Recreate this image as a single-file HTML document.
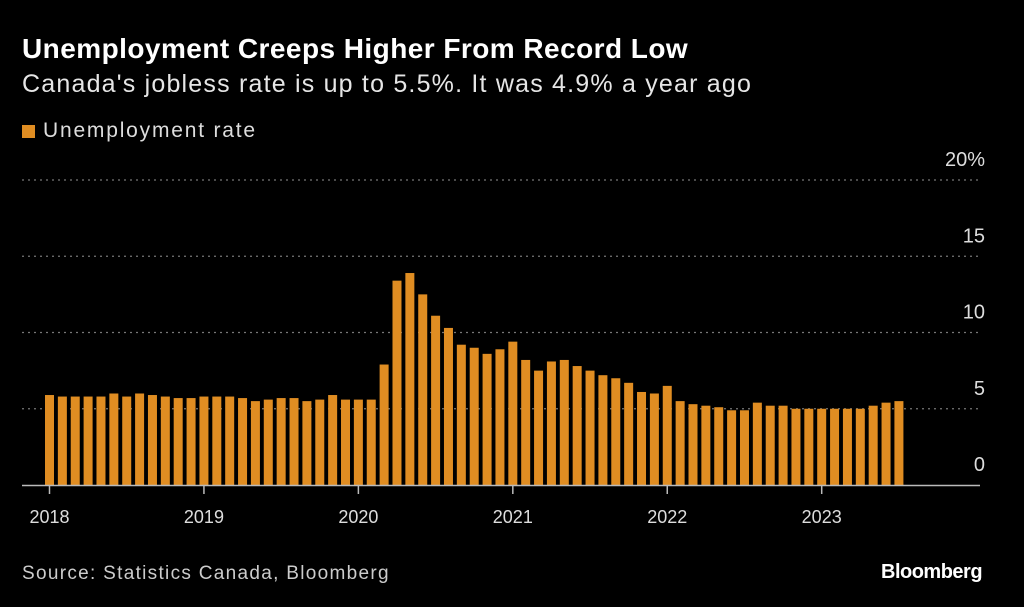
<!DOCTYPE html>
<html><head><meta charset="utf-8"><style>
body{margin:0;background:#000;width:1024px;height:607px;overflow:hidden;font-family:"Liberation Sans",sans-serif;color:#fff}
.t{position:absolute;white-space:nowrap}
</style></head><body>
<div class="t" style="left:22px;top:33px;font-size:28px;font-weight:bold;letter-spacing:0.45px">Unemployment Creeps Higher From Record Low</div>
<div class="t" style="left:22px;top:70px;font-size:25px;letter-spacing:1.2px;color:#e6e6e6">Canada's jobless rate is up to 5.5%. It was 4.9% a year ago</div>
<div class="t" style="left:22px;top:119px;font-size:21px;letter-spacing:1.8px;color:#ddd"><span style="display:inline-block;width:13px;height:13px;background:#e08d22;margin-right:8px;vertical-align:-1px"></span>Unemployment rate</div>
<div class="t" style="left:22px;top:563px;font-size:19px;letter-spacing:1.3px;color:#ccc">Source: Statistics Canada, Bloomberg</div>
<div class="t" style="left:881px;top:561px;font-size:20px;font-weight:bold;letter-spacing:-0.5px">Bloomberg</div>
<svg id="c" width="1024" height="607" style="position:absolute;left:0;top:0"></svg>
<script>
const yTicks=[0,5,10,15,20];
const yTickLabels=["0","5","10","15","20%"];
const years=["2018","2019","2020","2021","2022","2023"];
const rates=[5.9,5.8,5.8,5.8,5.8,6.0,5.8,6.0,5.9,5.8,5.7,5.7,
5.8,5.8,5.8,5.7,5.5,5.6,5.7,5.7,5.5,5.6,5.9,5.6,
5.6,5.6,7.9,13.4,13.9,12.5,11.1,10.3,9.2,9.0,8.6,8.9,
9.4,8.2,7.5,8.1,8.2,7.8,7.5,7.2,7.0,6.7,6.1,6.0,
6.5,5.5,5.3,5.2,5.1,4.9,4.9,5.4,5.2,5.2,5.0,5.0,
5.0,5.0,5.0,5.0,5.2,5.4,5.5];
const svg=document.getElementById('c'),NS='http://www.w3.org/2000/svg';
const y=v=>485-v*15.25;
const x=m=>49.5+m*12.87;
function mk(t,a){const e=document.createElementNS(NS,t);for(const k in a)e.setAttribute(k,a[k]);svg.appendChild(e);return e;}
yTicks.forEach((v,i)=>{
 if(v>0){const g=mk('line',{x1:22,x2:980,y1:y(v),y2:y(v),stroke:'#777','stroke-width':1.2,'stroke-dasharray':'2,4'});
 
 }
 const t=mk('text',{x:985,y:y(v)-14,'text-anchor':'end','font-size':20,fill:'#ddd','font-family':'Liberation Sans,sans-serif'});
 t.textContent=yTickLabels[i];
 
 
});
rates.forEach((v,i)=>{
 const r=mk('rect',{x:x(i)-4.5,y:y(v),width:9,height:485-y(v),fill:'#e08d22'});
 
 
});
const ax=mk('line',{x1:22,x2:980,y1:485.5,y2:485.5,stroke:'#bbb','stroke-width':1.5});


years.forEach((yr,i)=>{
 const tk=mk('line',{x1:x(i*12),x2:x(i*12),y1:486,y2:494,stroke:'#bbb','stroke-width':1.5});
 
 
 const t=mk('text',{x:x(i*12),y:523,'text-anchor':'middle','font-size':18,fill:'#ddd','font-family':'Liberation Sans,sans-serif'});
 t.textContent=yr;
 
 
});
</script>
</body></html>
